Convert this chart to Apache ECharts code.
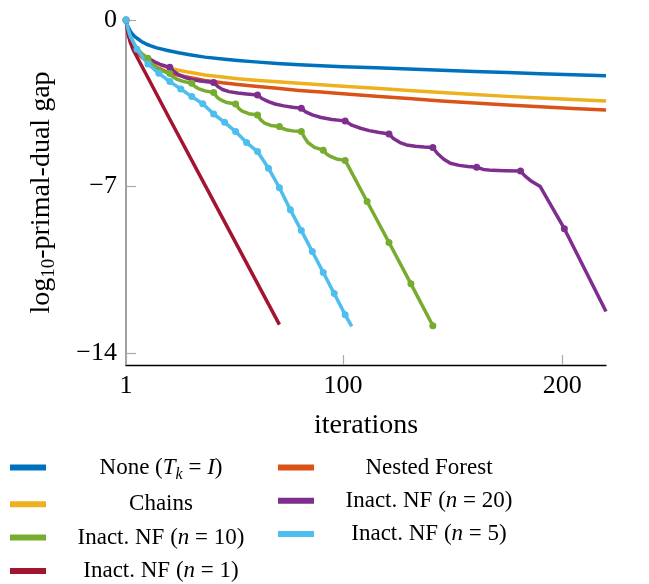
<!DOCTYPE html>
<html>
<head>
<meta charset="utf-8">
<script src="https://cdn.jsdelivr.net/npm/echarts@6/dist/echarts.min.js"></script>
<style>
  html, body { margin: 0; padding: 0; background: #fff; }
  #grafico { width: 649px; height: 584px; }
</style>
</head>
<body>
<div id="grafico"></div>
<script>
// valori: [iterazione, log10 gap]
const datiNone = [[1,0],[1.5,-0.18],[2,-0.3],[3,-0.48],[4,-0.6],[5,-0.7],[6.5,-0.8],[8,-0.9],[10,-1.0],[12,-1.08],[15,-1.17],[20,-1.28],[25,-1.38],[30,-1.46],[37,-1.56],[45,-1.64],[52,-1.7],[60,-1.76],[70,-1.83],[80,-1.88],[90,-1.92],[100,-1.96],[115,-2.01],[130,-2.06],[145,-2.11],[160,-2.16],[175,-2.21],[190,-2.26],[205,-2.3],[220,-2.34]];
const datiNested = [[1,0],[1.5,-0.33],[2,-0.6],[3,-0.88],[4,-1.07],[5,-1.22],[6.5,-1.4],[8,-1.55],[10,-1.7],[12,-1.83],[15,-1.99],[20,-2.2],[25,-2.32],[30,-2.42],[37,-2.54],[45,-2.64],[52,-2.71],[60,-2.78],[70,-2.87],[80,-2.96],[90,-3.03],[100,-3.1],[115,-3.2],[130,-3.3],[145,-3.4],[160,-3.49],[175,-3.57],[190,-3.65],[205,-3.72],[220,-3.78]];
const datiChains = [[1,0],[1.5,-0.3],[2,-0.55],[3,-0.8],[4,-0.98],[5,-1.12],[6.5,-1.28],[8,-1.42],[10,-1.56],[12,-1.68],[15,-1.82],[20,-2.0],[25,-2.11],[30,-2.2],[37,-2.31],[45,-2.4],[52,-2.47],[60,-2.53],[70,-2.6],[80,-2.66],[90,-2.72],[100,-2.78],[115,-2.87],[130,-2.96],[145,-3.05],[160,-3.13],[175,-3.21],[190,-3.28],[205,-3.34],[220,-3.4]];
const datiNF20 = [[1,0],[2,-0.5],[3,-0.8],[4.5,-1.05],[6,-1.25],[8,-1.42],[10,-1.55],[14,-1.76],[17,-1.88],[21,-1.99],[23,-2.17],[25,-2.3],[28,-2.42],[31,-2.5],[35,-2.56],[41,-2.63],[43,-2.8],[45,-2.92],[48,-3.01],[52,-3.07],[56,-3.11],[61,-3.15],[63,-3.3],[66,-3.43],[69,-3.53],[73,-3.61],[77,-3.67],[81,-3.71],[83,-3.86],[86,-3.99],[90,-4.1],[95,-4.18],[101,-4.24],[104,-4.42],[108,-4.55],[112,-4.65],[116,-4.72],[121,-4.79],[123,-4.98],[126,-5.15],[129,-5.25],[133,-5.31],[137,-5.34],[141,-5.36],[143,-5.6],[146,-5.85],[149,-6.02],[153,-6.11],[157,-6.16],[161,-6.19],[164,-6.28],[168,-6.32],[174,-6.34],[181,-6.35],[183,-6.55],[186,-6.78],[190,-7.0],[201,-8.77],[220,-12.25]];
const datiNF10 = [[1,0],[2,-0.45],[3,-0.7],[5,-1.05],[7,-1.3],[9,-1.48],[11,-1.61],[12.5,-1.82],[14,-1.95],[17,-2.12],[21,-2.25],[22.5,-2.4],[24,-2.48],[27,-2.58],[31,-2.66],[32.5,-2.8],[34,-2.88],[37,-2.98],[41,-3.05],[42.5,-3.24],[44,-3.35],[47,-3.47],[51,-3.53],[52.5,-3.72],[54,-3.83],[57,-3.94],[61,-3.99],[62.5,-4.2],[64,-4.32],[67,-4.43],[71,-4.48],[72.5,-4.56],[74,-4.61],[77,-4.66],[81,-4.69],[82.5,-4.95],[84,-5.15],[87,-5.35],[91,-5.47],[92.5,-5.63],[94,-5.72],[97,-5.84],[101,-5.9],[111,-7.63],[121,-9.35],[131,-11.09],[141,-12.85]];
const datiNF5 = [[1,0],[2,-0.4],[3,-0.7],[6,-1.23],[11,-1.85],[16,-2.24],[21,-2.59],[26,-2.9],[31,-3.22],[36,-3.52],[41,-3.95],[46,-4.3],[51,-4.69],[56,-5.15],[61,-5.53],[66,-6.23],[71,-7.05],[76,-7.98],[81,-8.85],[86,-9.73],[91,-10.61],[96,-11.5],[101,-12.39],[104,-12.88]];
const datiNF1 = [[1,0],[2,-0.6],[3,-0.95],[4.3,-1.26],[10,-2.25],[21,-4.17],[41,-7.62],[71,-12.8]];

const tickX = [1, 100, 200];
const tickY = [0, -7, -14];

const colori = {
  none: '#0072BD', nested: '#D95319', chains: '#EDB120', nf20: '#7E2F8E',
  nf10: '#77AC30', nf5: '#4DBEEE', nf1: '#A2142F'
};

const font = '"Liberation Serif", "DejaVu Serif", serif';

// testo della legenda con corsivi e pedici
const etichette = {
  'None (T_k = I)': '{n|None (}{i|T}{s|k}{n| = }{i|I}{n|)}',
  'Nested Forest': '{n|Nested Forest}',
  'Chains': '{n|Chains}',
  'Inact. NF (n = 20)': '{n|Inact. NF (}{i|n}{n| = 20)}',
  'Inact. NF (n = 10)': '{n|Inact. NF (}{i|n}{n| = 10)}',
  'Inact. NF (n = 5)': '{n|Inact. NF (}{i|n}{n| = 5)}',
  'Inact. NF (n = 1)': '{n|Inact. NF (}{i|n}{n| = 1)}'
};

function serie(nome, dati, colore, passo) {
  return {
    name: nome,
    type: 'line',
    data: dati,
    smooth: false,
    clip: false,
    showAllSymbol: true,
    symbol: 'circle',
    symbolSize: passo ? (v => ((v[0] - 1) % passo === 0 ? 7 : 0)) : 0,
    showSymbol: !!passo,
    lineStyle: { color: colore, width: 3.5, join: 'round' },
    itemStyle: { color: colore },
    emphasis: { disabled: true }
  };
}

const legendaTesto = {
  width: 220,
  rich: {
    n: { fontFamily: font, fontSize: 23, color: '#000', align: 'center', lineHeight: 30 },
    i: { fontFamily: font, fontSize: 23, color: '#000', fontStyle: 'italic', align: 'center', lineHeight: 30 },
    s: { fontFamily: font, fontSize: 16, color: '#000', fontStyle: 'italic', align: 'center', lineHeight: 16, verticalAlign: 'bottom' }
  }
};

const baseLegenda = {
  orient: 'vertical',
  icon: 'rect',
  itemWidth: 36,
  itemHeight: 6,
  itemGap: 10.3,
  padding: 0,
  selectedMode: false,
  formatter: nome => etichette[nome],
  textStyle: legendaTesto
};

var grafico = echarts.init(document.getElementById('grafico'));
var option = {
  animation: false,
  grid: { left: 126, right: 43, top: 20, bottom: 219 },
  legend: [
    Object.assign({ left: 10, top: 456, data: ['None (T_k = I)', 'Chains', 'Inact. NF (n = 10)', 'Inact. NF (n = 1)'] }, baseLegenda),
    Object.assign({ left: 278, top: 456, data: ['Nested Forest', 'Inact. NF (n = 20)', 'Inact. NF (n = 5)'] }, baseLegenda)
  ],
  xAxis: {
    type: 'value',
    min: 1, max: 220,
    name: 'iterations',
    nameLocation: 'middle',
    nameGap: 47,
    nameTextStyle: { fontFamily: font, fontSize: 28, color: '#000' },
    axisLine: { onZero: false, lineStyle: { color: '#000', width: 1.3 } },
    axisTick: { inside: true, length: 10, customValues: tickX, lineStyle: { color: '#aaa', width: 1.2 } },
    axisLabel: { customValues: tickX, fontFamily: font, fontSize: 26, color: '#000', margin: 8 },
    splitLine: { show: false }
  },
  yAxis: {
    type: 'value',
    min: -14.5, max: 0,
    name: '{a|log}{b|10}{a|-primal-dual gap}',
    nameLocation: 'middle',
    nameGap: 67,
    nameTextStyle: {
      rich: {
        a: { fontFamily: font, fontSize: 28, color: '#000', lineHeight: 34 },
        b: { fontFamily: font, fontSize: 19, color: '#000', lineHeight: 19, verticalAlign: 'bottom' }
      }
    },
    axisLine: { onZero: false, lineStyle: { color: '#808080', width: 1.5 } },
    axisTick: { inside: true, length: 10, customValues: tickY, lineStyle: { color: '#aaa', width: 1.2 } },
    axisLabel: {
      customValues: tickY, fontFamily: font, fontSize: 26, color: '#000', margin: 9,
      formatter: v => String(v).replace('-', '\u2212')
    },
    splitLine: { show: false }
  },
  series: [
    serie('None (T_k = I)', datiNone, colori.none, 0),
    serie('Nested Forest', datiNested, colori.nested, 0),
    serie('Chains', datiChains, colori.chains, 0),
    serie('Inact. NF (n = 20)', datiNF20, colori.nf20, 20),
    serie('Inact. NF (n = 10)', datiNF10, colori.nf10, 10),
    serie('Inact. NF (n = 1)', datiNF1, colori.nf1, 0),
    serie('Inact. NF (n = 5)', datiNF5, colori.nf5, 5)
  ]
};
grafico.setOption(option);
</script>
</body>
</html>
